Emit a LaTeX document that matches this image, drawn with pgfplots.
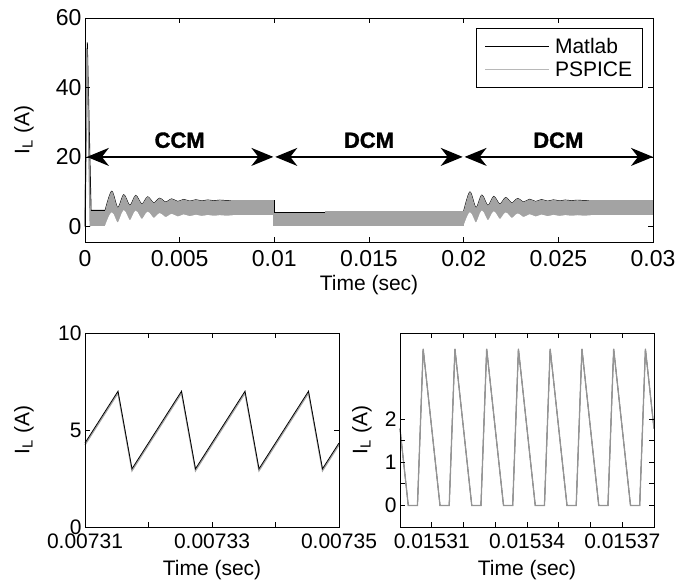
\documentclass[border=0pt]{standalone}
\usepackage{fontspec}
\setmainfont{Liberation Sans}
\newfontfamily\heavy{Liberation Sans}[BoldFeatures={FakeBold=1.5}]
\usepackage{pgfplots}
\pgfplotsset{compat=1.18}
\usetikzlibrary{arrows.meta}
\definecolor{band}{gray}{0.64}
\definecolor{pline}{gray}{0.58}
\definecolor{legg}{gray}{0.72}
\newcommand{\fs}[1]{\fontsize{#1bp}{#1bp}\selectfont}
\pgfplotsset{
  matstyle/.style={
    scale only axis, axis on top, clip=false,
    scaled x ticks=false, scaled y ticks=false,
    tick align=inside, major tick length=5bp,
    axis line style={line width=0.9bp},
    tick style={black, line width=0.8bp},
    label style={font=\fs{21}},
    xlabel={Time (sec)}, ylabel={I\textsubscript{L} (A)},
  }
}
\tikzset{marr/.style={line width=1.8bp,
  {Stealth[length=22bp,width=18bp,inset=7bp]}-{Stealth[length=22bp,width=18bp,inset=7bp]}}}
\begin{document}
\begin{tikzpicture}
\useasboundingbox (0,0) rectangle (676bp,585bp);
% ---------------- top axis ----------------
\begin{axis}[matstyle,
  at={(85bp,343bp)}, anchor=south west, width=568bp, height=224bp,
  xmin=0, xmax=0.03, ymin=-4.5, ymax=60,
  xtick={0,0.005,0.01,0.015,0.02,0.025,0.03},
  xticklabels={0,0.005,0.01,0.015,0.02,0.025,0.03},
  ytick={0,20,40,60}, yticklabels={0,20,40,60},
  ticklabel style={font=\fs{23}},
  xticklabel style={yshift=-5bp},
  xlabel style={at={(axis description cs:0.5,-0.192)}, anchor=center},
  ylabel style={at={(axis description cs:-0.1074,0.5)}, anchor=center},
  legend style={at={(axis description cs:1,1)}, anchor=north east,
    xshift=-10bp, yshift=-10bp, draw=black, line width=0.8bp,
    font=\fs{21}, inner xsep=8bp, inner ysep=6bp,
    nodes={inner xsep=2.5bp, inner ysep=3.5bp},
    /tikz/every odd column/.style={column sep=3bp}},
  legend cell align=left,
  legend image code/.code={\draw[#1] (0bp,0bp) -- (64bp,0bp);},
]
\addlegendimage{black, line width=0.9bp}
\addlegendentry{Matlab}
\addlegendimage{legg, line width=1bp}
\addlegendentry{PSPICE}
% Matlab
\addplot[black, line width=0.9bp, forget plot] coordinates {(0,0) (0.00012,53) (0.00032,4.6) (0.00106,4.6)};
\addplot[black, line width=0.9bp, smooth, forget plot] coordinates {
(0.00106,4.5) (0.00141,10.1) (0.00173,5.4) (0.00205,9.1) (0.00237,6.0) (0.00268,8.9)
(0.00300,6.4) (0.00331,8.5) (0.00363,6.75) (0.00394,8.1) (0.00426,7.0) (0.00458,7.9)
(0.00490,7.15) (0.00521,7.75) (0.00553,7.26) (0.00585,7.65) (0.00616,7.33) (0.00648,7.58)
(0.00680,7.38) (0.00712,7.54) (0.00743,7.42) (0.0078,7.45)};
\addplot[black, line width=0.9bp, forget plot] coordinates {(0.0078,7.45) (0.0100,7.45) (0.0100,4.1) (0.0200,4.1)};
\addplot[black, line width=0.9bp, smooth, forget plot] coordinates {
(0.0200,4.3) (0.02033,9.9) (0.02065,5.4) (0.02096,9.0) (0.02128,6.0) (0.02159,8.6)
(0.02191,6.4) (0.02222,8.3) (0.02254,6.75) (0.02285,8.0) (0.02317,7.0) (0.02348,7.8)
(0.02380,7.15) (0.02411,7.7) (0.02443,7.26) (0.02474,7.62) (0.02506,7.33) (0.02537,7.56)
(0.02569,7.38) (0.02600,7.53) (0.02632,7.42) (0.0267,7.45)};
\addplot[black, line width=0.9bp, forget plot] coordinates {(0.0267,7.45) (0.0300,7.45)};
% PSPICE
\addplot[pline, line width=1.4bp, forget plot] coordinates {(0,0) (0.0001,51) (0.00028,0)};
\addplot[draw=none, fill=band, smooth, forget plot] coordinates {
(0.00106,4.5) (0.00141,10.1) (0.00173,5.4) (0.00205,9.1) (0.00237,6.0) (0.00268,8.9)
(0.00300,6.4) (0.00331,8.5) (0.00363,6.75) (0.00394,8.1) (0.00426,7.0) (0.00458,7.9)
(0.00490,7.15) (0.00521,7.75) (0.00553,7.26) (0.00585,7.65) (0.00616,7.33) (0.00648,7.58)
(0.00680,7.38) (0.00712,7.54) (0.00743,7.42) (0.0078,7.5)} \closedcycle;
\addplot[draw=white, line width=1.2bp, fill=white, smooth, forget plot] coordinates {
(0.00106,-0.3) (0.00141,3.8) (0.00173,0.8) (0.00205,4.4) (0.00237,1.5) (0.00268,4.3)
(0.00300,1.9) (0.00331,4.0) (0.00363,2.25) (0.00394,3.6) (0.00426,2.5) (0.00458,3.4)
(0.00490,2.65) (0.00521,3.25) (0.00553,2.76) (0.00585,3.15) (0.00616,2.83) (0.00648,3.08)
(0.00680,2.88) (0.00712,3.04) (0.00743,2.92) (0.0078,3.0)} \closedcycle;
\addplot[draw=none, fill=band, smooth, forget plot] coordinates {
(0.0200,4.3) (0.02033,9.9) (0.02065,5.4) (0.02096,9.0) (0.02128,6.0) (0.02159,8.6)
(0.02191,6.4) (0.02222,8.3) (0.02254,6.75) (0.02285,8.0) (0.02317,7.0) (0.02348,7.8)
(0.02380,7.15) (0.02411,7.7) (0.02443,7.26) (0.02474,7.62) (0.02506,7.33) (0.02537,7.56)
(0.02569,7.38) (0.02600,7.53) (0.02632,7.42) (0.0267,7.5)} \closedcycle;
\addplot[draw=white, line width=1.2bp, fill=white, smooth, forget plot] coordinates {
(0.0200,-0.3) (0.02033,3.8) (0.02065,0.8) (0.02096,4.3) (0.02128,1.5) (0.02159,4.1)
(0.02191,1.9) (0.02222,3.8) (0.02254,2.25) (0.02285,3.5) (0.02317,2.5) (0.02348,3.3)
(0.02380,2.65) (0.02411,3.2) (0.02443,2.76) (0.02474,3.12) (0.02506,2.83) (0.02537,3.06)
(0.02569,2.88) (0.02600,3.03) (0.02632,2.92) (0.0267,3.0)} \closedcycle;
\addplot[draw=none, fill=band, forget plot] coordinates {(0.00025,0) (0.00025,4.5) (0.00108,4.5) (0.00108,0)};
\addplot[draw=none, fill=band, forget plot] coordinates {(0.0077,3.2) (0.0077,7.5) (0.0100,7.5) (0.0100,3.2)};
\addplot[draw=none, fill=band, forget plot] coordinates {(0.00995,0) (0.00995,3.8) (0.0127,3.8) (0.0127,0)};
\addplot[draw=none, fill=band, forget plot] coordinates {(0.0127,0) (0.0127,4.3) (0.02002,4.3) (0.02002,0)};
\addplot[draw=none, fill=band, forget plot] coordinates {(0.0266,3.2) (0.0266,7.5) (0.0300,7.5) (0.0300,3.2)};
% annotations
\draw[marr] (axis cs:0.0001,20) -- (axis cs:0.00995,20);
\draw[marr] (axis cs:0.01005,20) -- (axis cs:0.01995,20);
\draw[marr] (axis cs:0.02005,20) -- (axis cs:0.03,20);
\node[font=\fs{22}\heavy\bfseries] at (axis cs:0.005,24.8) {CCM};
\node[font=\fs{22}\heavy\bfseries] at (axis cs:0.015,24.8) {DCM};
\node[font=\fs{22}\heavy\bfseries] at (axis cs:0.025,24.8) {DCM};
\end{axis}
% ---------------- bottom left ----------------
\begin{axis}[matstyle,
  at={(85bp,58bp)}, anchor=south west, width=254bp, height=194bp,
  xmin=0.00731, xmax=0.00735, ymin=0, ymax=10,
  xtick={0.00731,0.00732,0.00733,0.00734,0.00735},
  xticklabels={0.00731,,0.00733,,0.00735},
  ytick={0,5,10}, yticklabels={0,5,10},
  ticklabel style={font=\fs{21}},
  xticklabel style={yshift=-3bp},
  xlabel style={at={(axis description cs:0.5,-0.2216)}, anchor=center},
  ylabel style={at={(axis description cs:-0.2402,0.5)}, anchor=center},
]
\addplot[band, line width=1.3bp] coordinates {
(0.00731,4.23) (0.0073152,6.9) (0.0073174,2.9) (0.0073252,6.9) (0.0073274,2.9)
(0.0073352,6.9) (0.0073374,2.9) (0.0073452,6.9) (0.0073474,2.9) (0.00735,4.23)};
\addplot[black, line width=0.8bp] coordinates {
(0.00731,4.33) (0.0073152,7.0) (0.0073174,3.0) (0.0073252,7.0) (0.0073274,3.0)
(0.0073352,7.0) (0.0073374,3.0) (0.0073452,7.0) (0.0073474,3.0) (0.00735,4.33)};
\end{axis}
% ---------------- bottom right ----------------
\begin{axis}[matstyle,
  at={(400bp,58bp)}, anchor=south west, width=254bp, height=194bp,
  xmin=0.0153, xmax=0.01538, ymin=-0.5, ymax=4,
  xtick={0.01531,0.01532,0.01533,0.01534,0.01535,0.01536,0.01537},
  xticklabels={0.01531,,,0.01534,,,0.01537},
  ytick={0,0.5,1,1.5,2}, yticklabels={0,,1,,2},
  ticklabel style={font=\fs{21}},
  xticklabel style={yshift=-3bp},
  xlabel style={at={(axis description cs:0.5,-0.2216)}, anchor=center},
  ylabel style={at={(axis description cs:-0.1496,0.5)}, anchor=center},
]
\addplot[black, line width=0.7bp] coordinates {
(0.0153000,1.78) (0.0153026,0) (0.0153055,0) (0.0153073,3.63)
(0.0153126,0) (0.0153155,0) (0.0153173,3.63) (0.0153226,0) (0.0153255,0) (0.0153273,3.63)
(0.0153326,0) (0.0153355,0) (0.0153373,3.63) (0.0153426,0) (0.0153455,0) (0.0153473,3.63)
(0.0153526,0) (0.0153555,0) (0.0153573,3.63) (0.0153626,0) (0.0153655,0) (0.0153673,3.63)
(0.0153726,0) (0.0153755,0) (0.0153773,3.63) (0.0153800,1.78)};
\addplot[pline, line width=1.3bp] coordinates {
(0.0153000,1.78) (0.0153026,0) (0.0153055,0) (0.0153073,3.63)
(0.0153126,0) (0.0153155,0) (0.0153173,3.63) (0.0153226,0) (0.0153255,0) (0.0153273,3.63)
(0.0153326,0) (0.0153355,0) (0.0153373,3.63) (0.0153426,0) (0.0153455,0) (0.0153473,3.63)
(0.0153526,0) (0.0153555,0) (0.0153573,3.63) (0.0153626,0) (0.0153655,0) (0.0153673,3.63)
(0.0153726,0) (0.0153755,0) (0.0153773,3.63) (0.0153800,1.78)};
\end{axis}
\end{tikzpicture}
\end{document}
